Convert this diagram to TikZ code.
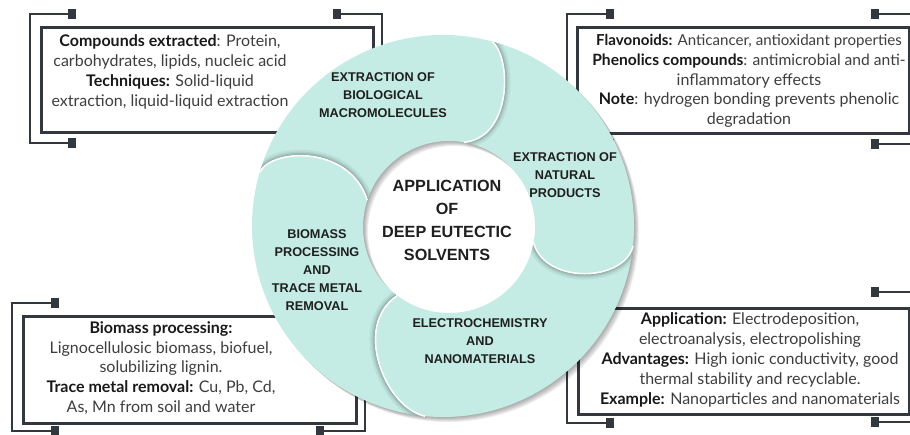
\documentclass[tikz,border=0pt]{standalone}
\usepackage{fontspec}
\setmainfont{Lato}
\newfontfamily\labelfont{Liberation Sans}
\usetikzlibrary{calc}
\definecolor{mint}{RGB}{197,236,228}
\definecolor{frame}{RGB}{50,56,62}
\definecolor{txt}{RGB}{62,62,62}
\newcommand\bt[1]{\textbf{\color{black!90}#1}}
\tikzset{
  boxframe/.style={draw=frame, line width=2.7pt, fill=white, inner sep=0pt, anchor=north west},
  brack/.style={draw=frame, line width=2.4pt},
  tipmark/.style={fill=frame, shape=rectangle, minimum width=8pt, minimum height=10pt, inner sep=0pt},
  boxtext/.style={align=center, font=\fontsize{16}{19.8}\selectfont, text=txt, inner sep=0pt},
  bladelabel/.style={align=center, font=\labelfont\bfseries\fontsize{12.7}{18}\selectfont, text=black!88, inner sep=0pt},
  centerlabel/.style={align=center, font=\labelfont\bfseries\fontsize{16.2}{23}\selectfont, text=black!88, inner sep=0pt}
}
\newcommand\bladeTop{(OL) arc[start angle=-163.6,end angle=-75.1,radius=191] .. controls (512,58) and (512,138) .. (IT) arc[start angle=-80,end angle=-161.8,radius=86] .. controls (350,145) and (272,148) .. (OL) -- cycle}
\newcommand\bladeRight{(OT) arc[start angle=-75.1,end angle=6,radius=191] .. controls (625,282) and (545,285) .. (IR) arc[start angle=10.5,end angle=-80,radius=86] .. controls (512,138) and (512,58) .. (OT) -- cycle}
\newcommand\bladeBottom{(OR) arc[start angle=6,end angle=95.4,radius=191] .. controls (385,408) and (352,325) .. (IB) arc[start angle=127,end angle=10.5,radius=86] .. controls (545,285) and (625,282) .. (OR) -- cycle}
\newcommand\bladeLeft{(OB) arc[start angle=95.4,end angle=196.4,radius=191] .. controls (272,148) and (350,145) .. (IL) arc[start angle=-161.8,end angle=-233,radius=86] .. controls (352,325) and (385,408) .. (OB) -- cycle}
\newcommand\capT{(OT) .. controls (512,58) and (512,138) .. (IT)}
\newcommand\capR{(OR) .. controls (625,282) and (545,285) .. (IR)}
\newcommand\capB{(OB) .. controls (385,408) and (352,325) .. (IB)}
\newcommand\capL{(OL) .. controls (272,148) and (350,145) .. (IL)}
\begin{document}
\begin{tikzpicture}[x=1pt,y=-1pt]
\useasboundingbox (0,0) rectangle (910,434);
\clip (0,0) rectangle (910,434);
\fill[white] (0,0) rectangle (910,434);

% ---------- top-left box ----------
\node[tipmark] (tl1) at (72,14) {};
\node[tipmark] (tl2) at (72,143) {};
\draw[brack] (tl1.center) -- ++(-42,0) |- (tl2.center);
\node[tipmark] (tl3) at (337,14) {};
\node[tipmark] (tl4) at (337,143) {};
\draw[brack] (tl3.center) -- ++(45,0) |- (tl4.center);
\node[boxframe, minimum width=332pt, minimum height=105pt] (tlbox) at (40,26) {};
\node[boxtext] (tltext) at (170,72) {\bt{Compounds extracted}: Protein,\\carbohydrates, lipids, nucleic acid\\\bt{Techniques:} Solid-liquid\\extraction, liquid-liquid extraction};

% ---------- top-right box ----------
\node[tipmark] (tr1) at (610,14) {};
\node[tipmark] (tr2) at (610,144) {};
\draw[brack] (tr1.center) -- ++(-43,0) |- (tr2.center);
\node[tipmark] (tr3) at (875,14) {};
\node[tipmark] (tr4) at (875,144) {};
\draw[brack] (tr3.center) -- ++(43,0) |- (tr4.center);
\node[boxframe, minimum width=332pt, minimum height=106pt] (trbox) at (576,26) {};
\node[boxtext] (trtext) at (749,81) {{\fontsize{15.1}{19.8}\selectfont\bt{Flavonoids:} Anticancer, antioxidant properties}\\{\fontsize{15.6}{19.8}\selectfont\bt{Phenolics compounds}: antimicrobial and anti-}\\inflammatory effects\\\bt{Note}: hydrogen bonding prevents phenolic\\degradation};

% ---------- bottom-left box ----------
\node[tipmark] (bl1) at (55,303) {};
\node[tipmark] (bl2) at (55,431) {};
\draw[brack] (bl1.center) -- ++(-43,0) |- (bl2.center);
\node[tipmark] (bl3) at (320,303) {};
\node[tipmark] (bl4) at (320,431) {};
\draw[brack] (bl3.center) -- ++(45,0) |- (bl4.center);
\node[boxframe, minimum width=333pt, minimum height=107pt] (blbox) at (22,315) {};
\node[boxtext] (bltext) at (161,368) {\bt{Biomass processing:}\\Lignocellulosic biomass, biofuel,\\solubilizing lignin.\\\bt{Trace metal removal:} Cu, Pb, Cd,\\As, Mn from soil and water};

% ---------- bottom-right box ----------
\node[tipmark] (br1) at (610,292) {};
\node[tipmark] (br2) at (610,423) {};
\draw[brack] (br1.center) -- ++(-43,0) |- (br2.center);
\node[tipmark] (br3) at (875,292) {};
\node[tipmark] (br4) at (875,422) {};
\draw[brack] (br3.center) -- ++(43,0) |- (br4.center);
\node[boxframe, minimum width=331pt, minimum height=106pt] (brbox) at (577,307) {};
\node[boxtext] (brtext) at (750,360) {\bt{Application:} Electrodeposition,\\electroanalysis, electropolishing\\\bt{Advantages:} High ionic conductivity, good\\thermal stability and recyclable.\\\bt{Example:} Nanoparticles and nanomaterials};

% ---------- pinwheel ----------
\coordinate (C) at (443,226);
\coordinate (H) at (449,227);
\coordinate (OL) at ($(C)+(-163.6:191)$);
\coordinate (OT) at ($(C)+(-75.1:191)$);
\coordinate (OR) at ($(C)+(6:191)$);
\coordinate (OB) at ($(C)+(95.4:191)$);
\coordinate (IT) at ($(H)+(-80:86)$);
\coordinate (IL) at ($(H)+(-161.8:86)$);
\coordinate (IR) at ($(H)+(10.5:86)$);
\coordinate (IB) at ($(H)+(127:86)$);

\foreach \s in {1,2,3,4,5}{
  \fill[black, opacity=0.07, transform canvas={shift={(\s pt,-\s pt)}}] \bladeTop;
  \fill[black, opacity=0.07, transform canvas={shift={(\s pt,-\s pt)}}] \bladeRight;
  \fill[black, opacity=0.07, transform canvas={shift={(\s pt,-\s pt)}}] \bladeBottom;
  \fill[black, opacity=0.07, transform canvas={shift={(\s pt,-\s pt)}}] \bladeLeft;
}
\fill[mint] \bladeTop;
\fill[mint] \bladeRight;
\fill[mint] \bladeBottom;
\fill[mint] \bladeLeft;

\begin{scope}
  \clip \bladeRight;
  \foreach \w/\o in {12/0.05,8/0.07,5/0.09,2.5/0.13}{\draw[black, opacity=\o, line width=\w pt] \capT;}
\end{scope}
\begin{scope}
  \clip \bladeBottom;
  \foreach \w/\o in {12/0.05,8/0.07,5/0.09,2.5/0.13}{\draw[black, opacity=\o, line width=\w pt] \capR;}
\end{scope}
\begin{scope}
  \clip \bladeLeft;
  \foreach \w/\o in {12/0.05,8/0.07,5/0.09,2.5/0.13}{\draw[black, opacity=\o, line width=\w pt] \capB;}
\end{scope}
\begin{scope}
  \clip \bladeTop;
  \foreach \w/\o in {12/0.05,8/0.07,5/0.09,2.5/0.13}{\draw[black, opacity=\o, line width=\w pt] \capL;}
\end{scope}
\draw[white, line width=1.6pt] \capT;
\draw[white, line width=1.6pt] \capR;
\draw[white, line width=1.6pt] \capB;
\draw[white, line width=1.6pt] \capL;

% ---------- labels ----------
\node[bladelabel] (lbtop) at (383,95) {EXTRACTION OF\\BIOLOGICAL\\MACROMOLECULES};
\node[bladelabel] (lbright) at (565,175) {EXTRACTION OF\\NATURAL\\PRODUCTS};
\node[bladelabel] (lbleft) at (317,270) {BIOMASS\\PROCESSING\\AND\\TRACE METAL\\REMOVAL};
\node[bladelabel] (lbbottom) at (480,341) {ELECTROCHEMISTRY\\AND\\NANOMATERIALS};
\node[centerlabel] (lbcenter) at (447,220) {APPLICATION\\OF\\DEEP EUTECTIC\\SOLVENTS};
\end{tikzpicture}
\end{document}
